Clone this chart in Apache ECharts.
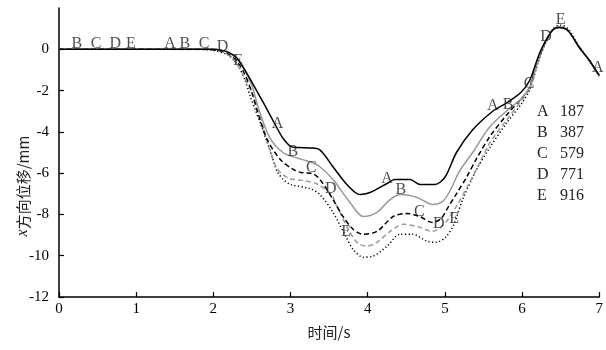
<!DOCTYPE html>
<html>
<head>
<meta charset="utf-8">
<script src="https://cdn.jsdelivr.net/npm/echarts@6/dist/echarts.min.js"></script>
<style>html,body{margin:0;padding:0;background:#fff}#c{width:606px;height:350px}</style>
</head>
<body>
<div id="c"></div>
<script>
// ---- data (time in s, x-displacement in mm) ----
const tA = [0, 1.44, 2.0, 2.1, 2.2, 2.3, 2.4, 2.5, 2.65, 2.83, 2.9, 3.0, 3.1, 3.25, 3.38, 3.55, 3.73, 3.9, 4.03, 4.25, 4.35, 4.55, 4.68, 4.87, 5.0, 5.15, 5.36, 5.62, 5.8, 5.99, 6.1, 6.22, 6.32, 6.4, 6.48, 6.59, 6.74, 6.87, 6.98, 7.0];
const yA = [0, 0, 0, -0.04, -0.15, -0.4, -0.95, -1.6, -2.6, -3.85, -4.3, -4.7, -4.76, -4.78, -4.87, -5.69, -6.55, -7.04, -6.94, -6.5, -6.31, -6.31, -6.55, -6.55, -6.2, -5.0, -3.9, -3.0, -2.6, -2.07, -1.5, -0.25, 0.5, 0.95, 1.06, 0.92, 0.1, -0.53, -1.15, -1.25];

const tB = [0, 0.23, 1.63, 2.0, 2.1, 2.2, 2.3, 2.4, 2.5, 2.58, 2.73, 2.9, 3.03, 3.25, 3.38, 3.55, 3.77, 3.94, 4.12, 4.29, 4.43, 4.64, 4.84, 4.97, 5.06, 5.19, 5.36, 5.58, 5.82, 5.97, 6.1, 6.22, 6.32, 6.4, 6.48, 6.59, 6.74, 6.87, 7.0];
const yB = [0, 0, 0, 0, -0.05, -0.17, -0.45, -1.0, -1.75, -2.8, -4.28, -5.0, -5.2, -5.45, -5.69, -6.31, -7.42, -8.1, -7.9, -7.28, -7.04, -7.18, -7.52, -7.37, -6.9, -5.9, -5.0, -3.76, -2.92, -2.46, -1.83, -0.35, 0.5, 0.95, 1.06, 0.92, 0.1, -0.53, -1.3];

const tC = [0, 0.48, 1.88, 2.0, 2.1, 2.2, 2.3, 2.4, 2.5, 2.57, 2.7, 2.87, 3.04, 3.15, 3.27, 3.38, 3.55, 3.68, 3.81, 3.94, 4.12, 4.33, 4.5, 4.67, 4.84, 4.95, 5.05, 5.15, 5.28, 5.41, 5.58, 5.8, 6.0, 6.09, 6.15, 6.22, 6.32, 6.4, 6.48, 6.59, 6.74, 6.87, 7.0];
const yC = [0, 0, 0, -0.02, -0.08, -0.22, -0.55, -1.15, -2.1, -3.0, -4.39, -5.35, -5.83, -5.98, -6.0, -6.3, -7.28, -8.1, -8.72, -8.96, -8.82, -8.1, -7.95, -8.1, -8.39, -8.2, -7.6, -7.0, -6.2, -5.3, -4.24, -3.18, -2.35, -1.9, -1.2, -0.4, 0.5, 0.95, 1.07, 0.92, 0.1, -0.53, -1.3];

const tD = [0, 0.73, 2.0, 2.12, 2.2, 2.3, 2.4, 2.5, 2.6, 2.7, 2.83, 2.98, 3.15, 3.33, 3.52, 3.6, 3.73, 3.86, 3.99, 4.12, 4.29, 4.46, 4.64, 4.84, 4.92, 5.03, 5.15, 5.32, 5.45, 5.58, 5.8, 6.0, 6.1, 6.22, 6.31, 6.4, 6.48, 6.59, 6.74, 6.87, 7.0];
const yD = [0, 0, -0.02, -0.12, -0.3, -0.7, -1.35, -2.1, -3.1, -4.5, -5.8, -6.25, -6.35, -6.5, -7.0, -7.6, -8.58, -9.35, -9.54, -9.35, -8.82, -8.48, -8.58, -8.82, -8.7, -8.3, -7.6, -6.46, -5.5, -4.55, -3.42, -2.45, -1.9, -0.45, 0.35, 0.97, 1.1, 0.94, 0.1, -0.53, -1.3];

const tE = [0, 0.93, 1.8, 2.0, 2.2, 2.32, 2.41, 2.48, 2.54, 2.61, 2.7, 2.76, 2.83, 2.92, 3.0, 3.25, 3.38, 3.55, 3.72, 3.81, 3.94, 4.07, 4.25, 4.42, 4.58, 4.77, 4.89, 5.02, 5.12, 5.23, 5.41, 5.58, 5.8, 6.0, 6.1, 6.22, 6.31, 6.4, 6.5, 6.6, 6.74, 6.87, 7.0];
const yE = [0, 0, 0, -0.06, -0.3, -0.8, -1.5, -2.3, -2.9, -3.57, -4.55, -5.2, -5.95, -6.35, -6.55, -6.75, -7.04, -7.9, -9.1, -9.69, -10.07, -10.02, -9.54, -8.96, -8.96, -9.3, -9.35, -9.06, -8.45, -7.28, -5.83, -4.77, -3.57, -2.6, -1.95, -0.5, 0.35, 0.98, 1.17, 0.98, 0.12, -0.53, -1.3];

// times at which each curve carries its letter marker
const markA = [1.44, 2.83, 4.25, 5.62, 6.98];
const markB = [0.23, 1.63, 3.03, 4.43, 5.82];
const markC = [0.48, 1.88, 3.27, 4.67, 6.09];
const markD = [0.73, 2.12, 3.52, 4.92, 6.31];
const markE = [0.93, 2.32, 3.72, 5.12, 6.5];

const legendLetters = ['A', 'B', 'C', 'D', 'E'];
const legendValues = ['187', '387', '579', '771', '916'];

const xTicks = [0, 1, 2, 3, 4, 5, 6, 7];
const yTicks = [-12, -10, -8, -6, -4, -2, 0];

// ---- chart ----
const SERIF = '"Liberation Serif", "Times New Roman", serif';
const curves = [
  {n: 'E', t: tE, y: yE, m: markE, color: '#000', type: [1.2, 2.4], w: 1.5},
  {n: 'D', t: tD, y: yD, m: markD, color: '#999', type: [5, 3], w: 1.5},
  {n: 'C', t: tC, y: yC, m: markC, color: '#000', type: [5, 3], w: 1.5},
  {n: 'B', t: tB, y: yB, m: markB, color: '#999', type: 'solid', w: 1.5},
  {n: 'A', t: tA, y: yA, m: markA, color: '#000', type: 'solid', w: 1.5}
];
const series = [];
curves.forEach(function (c, k) {
  const pts = c.t.map(function (t, i) { return [t, c.y[i]]; });
  series.push({
    type: 'line', name: c.n, data: pts, showSymbol: false, smooth: 0.3,
    lineStyle: {color: c.color, width: c.w, type: c.type}, z: 2 + k, silent: true
  });
  series.push({
    type: 'scatter', name: c.n + '-mark', silent: true, z: 10,
    data: pts.filter(function (p) { return c.m.indexOf(p[0]) >= 0; }),
    symbolSize: 1, itemStyle: {color: 'rgba(0,0,0,0)'},
    label: {show: true, position: 'inside', offset: [0, -5], formatter: c.n,
            fontFamily: SERIF, fontSize: 16, color: '#222'}
  });
});

const graphics = [];
legendLetters.forEach(function (L, i) {
  const yy = 113 + i * 21;
  graphics.push({type: 'text', left: 537, top: yy - 9,
    style: {text: L, font: '16px ' + SERIF, fill: '#222'}});
  graphics.push({type: 'text', left: 560, top: yy - 9,
    style: {text: legendValues[i], font: '16px ' + SERIF, fill: '#222'}});
});
graphics.push({type: 'text', x: 329, y: 332, style: {text: '时间/s', font: '15px "Noto Sans CJK SC", sans-serif', fill: '#222', align: 'center', verticalAlign: 'middle'}});
graphics.push({type: 'text', x: 23, y: 186, rotation: Math.PI / 2,
  style: {text: '{i|x}{c|方向位移/mm}', align: 'center', verticalAlign: 'middle', fill: '#222',
    rich: {i: {fontFamily: SERIF, fontStyle: 'italic', fontSize: 16, fill: '#222'},
           c: {fontFamily: '"Noto Sans CJK SC", sans-serif', fontSize: 15, fill: '#222'}}}});

const axisCommon = {
  axisLine: {show: true, onZero: false, lineStyle: {color: '#000', width: 1.5}},
  splitLine: {show: false}
};
const option = {
  animation: false,
  backgroundColor: '#fff',
  grid: {left: 59, right: 6, top: 8, bottom: 53},
  xAxis: Object.assign({}, axisCommon, {
    type: 'value', min: 0, max: 7, interval: 1,
    axisTick: {inside: true, length: 5, lineStyle: {color: '#000', width: 1.2}, customValues: xTicks},
    axisLabel: {margin: 5, color: '#000', fontFamily: SERIF, fontSize: 15, customValues: xTicks}
  }),
  yAxis: Object.assign({}, axisCommon, {
    type: 'value', min: -12, max: 2, interval: 2,
    axisTick: {inside: true, length: 5, lineStyle: {color: '#000', width: 1.2}, customValues: yTicks},
    axisLabel: {margin: 10, color: '#000', fontFamily: SERIF, fontSize: 15, customValues: yTicks}
  }),
  series: series,
  graphic: graphics
};
const chart = echarts.init(document.getElementById('c'), null, {renderer: 'canvas'});
chart.setOption(option);
</script>
</body>
</html>
